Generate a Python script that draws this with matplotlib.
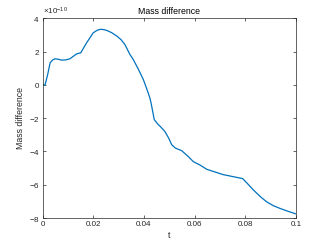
import matplotlib
matplotlib.use("Agg")
import matplotlib.pyplot as plt
from matplotlib.ticker import ScalarFormatter
import numpy as np

# values (mass difference in units of 1e-10)
t = [0, 0.001, 0.002, 0.003, 0.004, 0.0049, 0.006, 0.0076, 0.009, 0.0108,
     0.0135, 0.0151, 0.0174, 0.020, 0.0215, 0.0227, 0.024, 0.0253, 0.0273,
     0.0293, 0.031, 0.0325, 0.0345, 0.0358, 0.0378, 0.0398, 0.0417, 0.0425,
     0.0431, 0.0441, 0.0457, 0.0465, 0.0483, 0.0498, 0.0510, 0.0525, 0.0549,
     0.0575, 0.0595, 0.0621, 0.0648, 0.0713, 0.0790, 0.081, 0.0832, 0.086,
     0.0884, 0.091, 0.0937, 0.097, 0.1]
mass_diff = [0.0, 0.0, 0.6, 1.33, 1.5, 1.57, 1.55, 1.49, 1.5, 1.57,
             1.87, 1.93, 2.53, 3.13, 3.28, 3.34, 3.33, 3.28, 3.14,
             2.94, 2.72, 2.43, 1.83, 1.53, 0.95, 0.32, -0.48, -0.85,
             -1.29, -2.09, -2.39, -2.5, -2.80, -3.2, -3.60, -3.8, -3.95,
             -4.30, -4.61, -4.81, -5.07, -5.39, -5.63, -5.95, -6.31, -6.72,
             -7.02, -7.25, -7.42, -7.6, -7.75]
xticks = [0, 0.02, 0.04, 0.06, 0.08, 0.1]
xticklabels = ["0", "0.02", "0.04", "0.06", "0.08", "0.1"]
yticks = [-8, -6, -4, -2, 0, 2, 4]

plt.rcParams["font.family"] = ["Liberation Sans", "DejaVu Sans"]
plt.rcParams["axes.unicode_minus"] = False
plt.rcParams["mathtext.fontset"] = "custom"
plt.rcParams["mathtext.rm"] = "Liberation Sans"

fig = plt.figure(figsize=(3.27, 2.45), dpi=100)
ax = fig.add_axes([0.13, 0.11, 0.775, 0.815])

y = np.array(mass_diff) * 1e-10
ax.plot(t, y, color="#0072BD", lw=0.9)

gray = "#262626"
ax.set_xlim(0, 0.1)
ax.set_ylim(-8e-10, 4e-10)
ax.set_xticks(xticks)
ax.set_xticklabels(xticklabels)
ax.set_yticks(np.array(yticks) * 1e-10)
fmt = ScalarFormatter(useMathText=True)
fmt.set_powerlimits((0, 0))
ax.yaxis.set_major_formatter(fmt)
ax.yaxis.get_offset_text().set_fontsize(5.8)
ax.yaxis.get_offset_text().set_color(gray)

ax.tick_params(direction="in", length=2, width=0.5, labelsize=5.8,
               colors=gray, top=True, right=True, pad=2)
for sp in ax.spines.values():
    sp.set_linewidth(0.5)
    sp.set_color(gray)

ax.set_title("Mass difference", fontsize=6.3, color="k", pad=3)
ax.set_xlabel("t", fontsize=6.3, color=gray, labelpad=2)
ax.set_ylabel("Mass difference", fontsize=6.3, color=gray, labelpad=3)

fig.savefig("out.png", dpi=100)
